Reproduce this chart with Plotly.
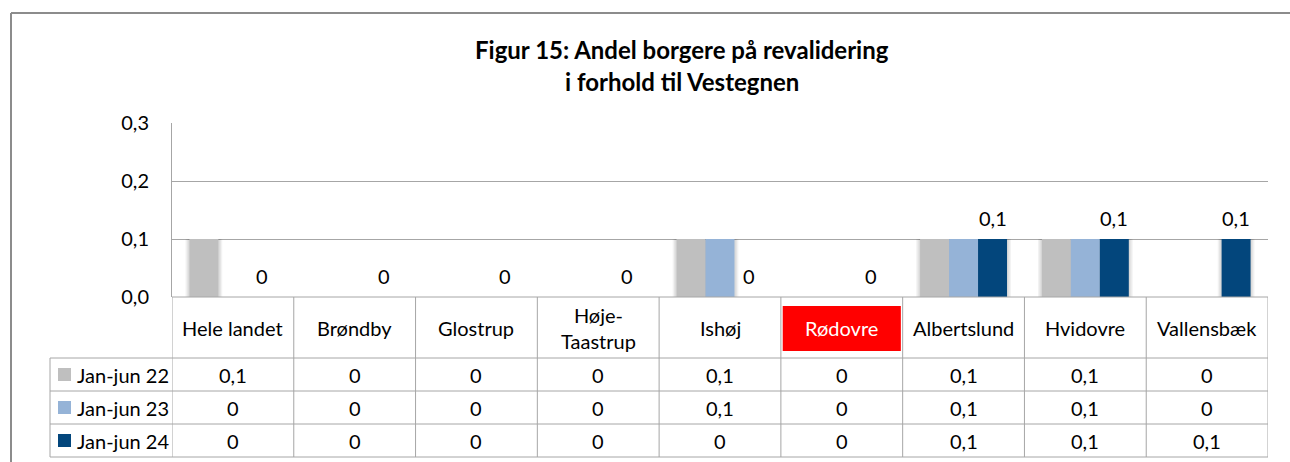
import plotly.graph_objects as go

# ---------------- data ----------------
categories = ["Hele landet", "Brøndby", "Glostrup", "Høje-Taastrup", "Ishøj",
              "Rødovre", "Albertslund", "Hvidovre", "Vallensbæk"]
category_labels = ["Hele landet", "Brøndby", "Glostrup", "Høje-<br>Taastrup", "Ishøj",
                   "Rødovre", "Albertslund", "Hvidovre", "Vallensbæk"]
series_names = ["Jan-jun 22", "Jan-jun 23", "Jan-jun 24"]
jan_jun_22 = [0.1, 0, 0, 0, 0.1, 0, 0.1, 0.1, 0]
jan_jun_23 = [0, 0, 0, 0, 0.1, 0, 0.1, 0.1, 0]
jan_jun_24 = [0, 0, 0, 0, 0, 0, 0.1, 0.1, 0.1]
series_values = [jan_jun_22, jan_jun_23, jan_jun_24]
y_ticks = [0.0, 0.1, 0.2, 0.3]
highlight = "Rødovre"
title_lines = ["Figur 15: Andel borgere på revalidering", "i forhold til Vestegnen"]

# ---------------- style ----------------
W, H = 1290, 462
colors = ["#BFBFBF", "#95B3D7", "#03467C"]
grid_col = "#A6A6A6"
line_col = "#A6A6A6"
FONT = "Lato"
FS = 20
BARGAP = 0.286


def px(x):
    return x / W


def py(y):
    return 1 - y / H


def fmt(v):
    return "0" if v == 0 else f"{v:.1f}".replace(".", ",")


x_idx = list(range(len(categories)))
n_series = len(series_values)
bw = (1 - BARGAP) / n_series
px_unit = len(categories) / (1268 - 172)  # data units per pixel on x

fig = go.Figure()
# soft shadows (drawn first)
for s, vals in enumerate(series_values):
    base_off = -n_series * bw / 2 + s * bw
    for k in (3, 2, 1):
        ext = k * 1.3 * px_unit
        fig.add_trace(go.Bar(
            x=x_idx, y=vals, width=bw + 2 * ext, offset=base_off - ext,
            marker=dict(color="rgba(0,0,0,0.05)", line=dict(width=0)),
            hoverinfo="skip", showlegend=False,
        ))
for s, (name, vals, col) in enumerate(zip(series_names, series_values, colors)):
    fig.add_trace(go.Bar(
        x=x_idx, y=vals, name=name, width=bw, offset=-n_series * bw / 2 + s * bw,
        marker=dict(color=col, line=dict(width=0)),
        hoverinfo="skip", showlegend=False,
    ))

shapes = []
annotations = []

# outer frame (top + left)
shapes.append(dict(type="line", xref="paper", yref="paper", x0=px(11), x1=1.0,
                   y0=py(13), y1=py(13), line=dict(color="#8C8C8C", width=2)))
shapes.append(dict(type="line", xref="paper", yref="paper", x0=px(11), x1=px(11),
                   y0=py(13), y1=0, line=dict(color="#8C8C8C", width=2)))

# title
for i, t in enumerate(title_lines):
    annotations.append(dict(text=f"<b>{t}</b>", xref="paper", yref="paper",
                            x=px(682), y=py(49 + 32 * i), xanchor="center", yanchor="middle",
                            showarrow=False, font=dict(family=FONT, size=24, color="#000")))

# data labels for last series (above the dark bar)
for i, v in enumerate(jan_jun_24):
    annotations.append(dict(text=fmt(v), xref="x", yref="y",
                            x=i + bw * (n_series - 1 - (n_series - 1) / 2), y=v,
                            yshift=21, xanchor="center", yanchor="middle", showarrow=False,
                            font=dict(family=FONT, size=FS, color="#000")))

# ---------- data table ----------
row_tops = [297, 358, 391, 424, 457]
shapes.append(dict(type="line", xref="paper", yref="paper", x0=px(172), x1=px(1268),
                   y0=py(297), y1=py(297), line=dict(color=line_col, width=1)))
for yy in row_tops[1:]:
    shapes.append(dict(type="line", xref="paper", yref="paper", x0=px(50), x1=px(1268),
                       y0=py(yy), y1=py(yy), line=dict(color=line_col, width=1)))
for b in range(len(categories) + 1):
    shapes.append(dict(type="line", xref="x", yref="paper", x0=b - 0.5, x1=b - 0.5,
                       y0=py(297), y1=py(457), line=dict(color=line_col, width=1)))
shapes.append(dict(type="line", xref="paper", yref="paper", x0=px(50), x1=px(50),
                   y0=py(358), y1=py(457), line=dict(color=line_col, width=1)))

hi = categories.index(highlight)
shapes.append(dict(type="rect", xref="x", yref="paper", x0=hi - 0.485, x1=hi + 0.485,
                   y0=py(351), y1=py(306), fillcolor="#FF0000", line=dict(width=0)))
for i, lab in enumerate(category_labels):
    annotations.append(dict(text=lab, xref="x", yref="paper", x=i, y=py(328),
                            xanchor="center", yanchor="middle", showarrow=False,
                            font=dict(family=FONT, size=FS,
                                      color="#FFFFFF" if categories[i] == highlight else "#000")))

for r, (name, vals, col) in enumerate(zip(series_names, series_values, colors)):
    yc = (row_tops[r + 1] + row_tops[r + 2]) / 2
    shapes.append(dict(type="rect", xref="paper", yref="paper", x0=px(58), x1=px(71),
                       y0=py(yc + 6.5), y1=py(yc - 6.5), fillcolor=col, line=dict(width=0)))
    annotations.append(dict(text=name, xref="paper", yref="paper", x=px(75), y=py(yc),
                            xanchor="left", yanchor="middle", showarrow=False,
                            font=dict(family=FONT, size=FS, color="#000")))
    for i, v in enumerate(vals):
        annotations.append(dict(text=fmt(v), xref="x", yref="paper", x=i, y=py(yc),
                                xanchor="center", yanchor="middle", showarrow=False,
                                font=dict(family=FONT, size=FS, color="#000")))

fig.update_layout(
    template="none",
    width=W, height=H, margin=dict(l=0, r=0, t=0, b=0, autoexpand=False),
    paper_bgcolor="white", plot_bgcolor="white",
    barmode="overlay",
    separators=",.",
    font=dict(family=FONT, size=FS, color="#000"),
    xaxis=dict(domain=[px(172), px(1268)], range=[-0.5, len(categories) - 0.5],
               showticklabels=False, showgrid=False, zeroline=False, showline=False,
               automargin=False, fixedrange=True),
    yaxis=dict(domain=[py(297), py(123)], range=[0, 0.3], tickvals=y_ticks,
               tickformat=".1f", showgrid=True, gridcolor=grid_col, gridwidth=1,
               zeroline=False, showline=True, linecolor=grid_col, linewidth=1,
               ticks="", ticklabelstandoff=18, automargin=False, fixedrange=True,
               tickfont=dict(family=FONT, size=FS, color="#000")),
    shapes=shapes, annotations=annotations,
)

fig.write_html("out.html", config={"displayModeBar": False},
               post_script="document.body.style.margin='0';document.body.style.overflow='hidden';")
